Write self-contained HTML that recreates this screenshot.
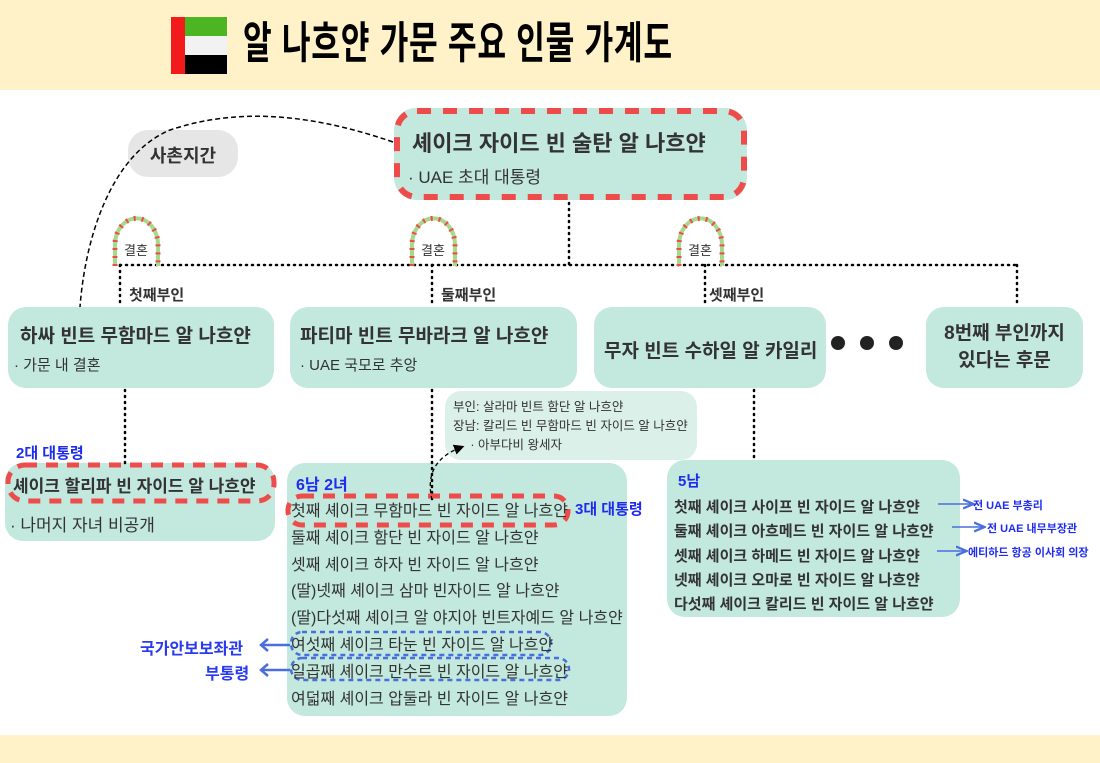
<!DOCTYPE html>
<html><head><meta charset="utf-8"><style>
*{margin:0;padding:0;box-sizing:border-box}
body{width:1100px;height:763px;background:#fff;position:relative;overflow:hidden;font-family:"Liberation Sans","Noto Sans CJK KR",sans-serif;color:#333}
.a{position:absolute;white-space:nowrap}
.box{position:absolute;background:#c3e8dd;border-radius:18px}
.b{font-weight:bold}
.blue{color:#1f2cf0;font-weight:bold}
</style></head><body>
<div class="a" style="left:0;top:0;width:1100px;height:90px;background:#fff2c9"></div>
<div class="a" style="left:0;top:735px;width:1100px;height:28px;background:#fff2c9"></div>
<div class="a" style="left:171px;top:17px;width:14px;height:57px;background:#f21a1a"></div>
<div class="a" style="left:185px;top:17px;width:42px;height:19px;background:#4cb622"></div>
<div class="a" style="left:185px;top:36px;width:42px;height:19px;background:#f2f2f2"></div>
<div class="a" style="left:185px;top:55px;width:42px;height:19px;background:#000"></div>
<div class="a b" style="left:243px;top:16px;font-size:44px;color:#000;line-height:56px;letter-spacing:1px;transform:scaleX(0.71);transform-origin:left center">알 나흐얀 가문 주요 인물 가계도</div>

<div class="box" style="left:128px;top:130px;width:110px;height:47px;background:#e6e6e6;border-radius:20px"></div>
<div class="box" style="left:394px;top:108px;width:353px;height:92px;border-radius:22px"></div>
<div class="box" style="left:8px;top:307px;width:266px;height:81px"></div>
<div class="box" style="left:290px;top:307px;width:287px;height:81px"></div>
<div class="box" style="left:594px;top:307px;width:232px;height:81px"></div>
<div class="box" style="left:926px;top:307px;width:157px;height:81px"></div>
<div class="box" style="left:445px;top:391px;width:252px;height:69px;background:#dcf0ea;border-radius:16px"></div>
<div class="box" style="left:5px;top:463px;width:270px;height:78px"></div>
<div class="box" style="left:287px;top:463px;width:340px;height:253px"></div>
<div class="box" style="left:667px;top:460px;width:293px;height:157px"></div>

<svg class="a" style="left:0;top:0" width="1100" height="763">
<defs><marker id="m" markerWidth="8" markerHeight="8" refX="6" refY="4" orient="auto"><path d="M0,0 L8,4 L0,8 z" fill="#000"/></marker>
<marker id="mb" markerWidth="8" markerHeight="8" refX="6" refY="4" orient="auto"><path d="M0,1 L7,4 L0,7" fill="none" stroke="#4a6fdc" stroke-width="1.5"/></marker></defs>
<rect x="397" y="111" width="347" height="86" rx="20" fill="none" stroke="#ee4b4b" stroke-width="6" stroke-dasharray="14 12"/>
<path d="M393,142 C300,110 230,110 170,130 C110,155 85,240 80,307" fill="none" stroke="#000" stroke-width="1.5" stroke-dasharray="5 3"/>
<g stroke="#000" stroke-width="2.5" stroke-dasharray="1 5" stroke-linecap="round" fill="none">
<path d="M120,265 H1017"/><path d="M569,203 V265"/>
<path d="M120,265 V307"/><path d="M432,265 V307"/><path d="M705,265 V307"/><path d="M1017,265 V307"/>
<path d="M125,390 V463"/><path d="M432,390 V500"/><path d="M754,390 V460"/>
</g>
<g fill="none">
<path d="M115,266 V245 A21,26 0 0 1 158,245 V266" stroke="#a6d98a" stroke-width="4"/>
<path d="M115,266 V245 A21,26 0 0 1 158,245 V266" stroke="#ee4b4b" stroke-width="5" stroke-dasharray="2 6"/>
<path d="M412,266 V245 A21,26 0 0 1 455,245 V266" stroke="#a6d98a" stroke-width="4"/>
<path d="M412,266 V245 A21,26 0 0 1 455,245 V266" stroke="#ee4b4b" stroke-width="5" stroke-dasharray="2 6"/>
<path d="M679,266 V245 A21,26 0 0 1 722,245 V266" stroke="#a6d98a" stroke-width="4"/>
<path d="M679,266 V245 A21,26 0 0 1 722,245 V266" stroke="#ee4b4b" stroke-width="5" stroke-dasharray="2 6"/>
</g>
<circle cx="838" cy="343" r="7" fill="#222"/><circle cx="867" cy="343" r="7" fill="#222"/><circle cx="896" cy="343" r="7" fill="#222"/>
<rect x="8" y="465" width="266" height="36" rx="17" fill="none" stroke="#ee4b4b" stroke-width="5" stroke-dasharray="12 9"/>
<rect x="288" y="496" width="280" height="29" rx="14" fill="none" stroke="#ee4b4b" stroke-width="5" stroke-dasharray="12 9"/>
<rect x="291" y="632" width="260" height="23" rx="11" fill="none" stroke="#4a6fdc" stroke-width="2.5" stroke-dasharray="5 4"/>
<rect x="291" y="658" width="278" height="22" rx="11" fill="none" stroke="#4a6fdc" stroke-width="2.5" stroke-dasharray="5 4"/>
<path d="M432,500 C425,470 440,455 462,447" fill="none" stroke="#000" stroke-width="1.3" stroke-dasharray="4 3" marker-end="url(#m)"/>
<g stroke="#4a6fdc" stroke-width="2.5" fill="none"><path d="M290,645 H262"/><path d="M268,639 L261,645 L268,651"/><path d="M290,670 H262"/><path d="M268,664 L261,670 L268,676"/></g>
<g stroke="#4a6fdc" stroke-width="1.5" fill="none" marker-end="url(#mb)"><path d="M938,504 H972"/><path d="M952,527 H983"/><path d="M937,551 H965"/></g>
</svg>

<div class="a b" style="left:128px;top:142px;width:110px;text-align:center;font-size:18px">사촌지간</div>
<div class="a b" style="left:412px;top:126px;font-size:22px">셰이크 자이드 빈 술탄 알 나흐얀</div>
<div class="a" style="left:408px;top:163px;font-size:17px">· UAE 초대 대통령</div>
<div class="a" style="left:124px;top:240px;font-size:13px">결혼</div>
<div class="a" style="left:421px;top:240px;font-size:13px">결혼</div>
<div class="a" style="left:688px;top:240px;font-size:13px">결혼</div>
<div class="a b" style="left:129px;top:284px;font-size:15px">첫째부인</div>
<div class="a b" style="left:441px;top:284px;font-size:15px">둘째부인</div>
<div class="a b" style="left:709px;top:284px;font-size:15px">셋째부인</div>
<div class="a b" style="left:20px;top:321px;font-size:19px">하싸 빈트 무함마드 알 나흐얀</div>
<div class="a" style="left:14px;top:354px;font-size:15px">· 가문 내 결혼</div>
<div class="a b" style="left:300px;top:321px;font-size:19px">파티마 빈트 무바라크 알 나흐얀</div>
<div class="a" style="left:300px;top:354px;font-size:15px">· UAE 국모로 추앙</div>
<div class="a b" style="left:604px;top:336px;font-size:19px">무자 빈트 수하일 알 카일리</div>
<div class="a b" style="left:926px;top:320px;width:157px;text-align:center;font-size:19px;line-height:27px;white-space:normal">8번째 부인까지<br>있다는 후문</div>
<div class="a" style="left:453px;top:398px;font-size:12.5px;line-height:19px">부인: 살라마 빈트 함단 알 나흐얀<br>장남: 칼리드 빈 무함마드 빈 자이드 알 나흐얀<br>&nbsp;&nbsp;&nbsp;&nbsp;&nbsp;· 아부다비 왕세자</div>
<div class="a blue" style="left:16px;top:442px;font-size:15px">2대 대통령</div>
<div class="a b" style="left:13px;top:472px;font-size:17px">셰이크 할리파 빈 자이드 알 나흐얀</div>
<div class="a" style="left:10px;top:511px;font-size:17px">· 나머지 자녀 비공개</div>
<div class="a blue" style="left:296px;top:471px;font-size:16px">6남 2녀</div>
<div class="a blue" style="left:575px;top:498px;font-size:15px">3대 대통령</div>
<div class="a" style="left:291px;top:499px;font-size:16px;line-height:26.8px">첫째 셰이크 무함마드 빈 자이드 알 나흐얀<br>둘째 셰이크 함단 빈 자이드 알 나흐얀<br>셋째 셰이크 하자 빈 자이드 알 나흐얀<br>(딸)넷째 셰이크 삼마 빈자이드 알 나흐얀<br>(딸)다섯째 셰이크 알 야지아 빈트자예드 알 나흐얀<br>여섯째 셰이크 타눈 빈 자이드 알 나흐얀<br>일곱째 셰이크 만수르 빈 자이드 알 나흐얀<br>여덟째 셰이크 압둘라 빈 자이드 알 나흐얀</div>
<div class="a blue" style="left:140px;top:635px;font-size:16px;color:#2a3af0">국가안보보좌관</div>
<div class="a blue" style="left:205px;top:660px;font-size:16px;color:#2a3af0">부통령</div>
<div class="a blue" style="left:678px;top:470px;font-size:15px">5남</div>
<div class="a b" style="left:674px;top:496px;font-size:15px;line-height:24.3px">첫째 셰이크 사이프 빈 자이드 알 나흐얀<br>둘째 셰이크 아흐메드 빈 자이드 알 나흐얀<br>셋째 셰이크 하메드 빈 자이드 알 나흐얀<br>넷째 셰이크 오마로 빈 자이드 알 나흐얀<br>다섯째 셰이크 칼리드 빈 자이드 알 나흐얀</div>
<div class="a blue" style="left:973px;top:497px;font-size:11px">전 UAE 부총리</div>
<div class="a blue" style="left:987px;top:520px;font-size:11px">전 UAE 내무부장관</div>
<div class="a blue" style="left:968px;top:544px;font-size:11px">에티하드 항공 이사회 의장</div>
</body></html>
